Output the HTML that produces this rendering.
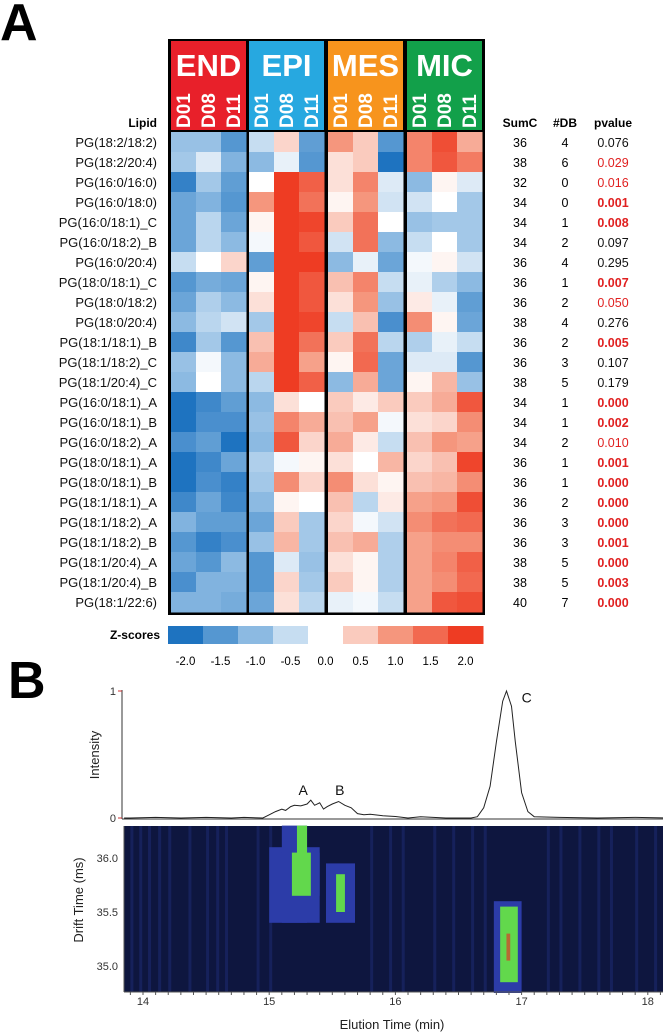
<!DOCTYPE html>
<html><head><meta charset="utf-8"><style>
html,body{margin:0;padding:0;background:#fff;}
svg{display:block;font-family:"Liberation Sans",sans-serif;}
</style></head><body>
<svg id="fig" width="663" height="1036" viewBox="0 0 663 1036" xmlns="http://www.w3.org/2000/svg">
<text x="0" y="40" font-size="52" font-weight="bold">A</text>
<text x="8" y="698" font-size="52" font-weight="bold">B</text>
<g id="hm"></g>
<g id="chrom"></g>
</svg>
<script>
const NS="http://www.w3.org/2000/svg";
const lipids=["PG(18:2/18:2)","PG(18:2/20:4)","PG(16:0/16:0)","PG(16:0/18:0)","PG(16:0/18:1)_C","PG(16:0/18:2)_B","PG(16:0/20:4)","PG(18:0/18:1)_C","PG(18:0/18:2)","PG(18:0/20:4)","PG(18:1/18:1)_B","PG(18:1/18:2)_C","PG(18:1/20:4)_C","PG(16:0/18:1)_A","PG(16:0/18:1)_B","PG(16:0/18:2)_A","PG(18:0/18:1)_A","PG(18:0/18:1)_B","PG(18:1/18:1)_A","PG(18:1/18:2)_A","PG(18:1/18:2)_B","PG(18:1/20:4)_A","PG(18:1/20:4)_B","PG(18:1/22:6)"];
const groups=["END","EPI","MES","MIC"];
const groupColors=["#e8202a","#27a8e0","#f7941d","#12a04a"];
const days=["D01","D08","D11"];
const zEND=[[-0.9,-0.9,-1.5],[-0.8,-0.3,-1.1],[-1.8,-0.8,-1.4],[-1.3,-1.1,-1.5],[-1.3,-0.6,-1.3],[-1.3,-0.6,-1.0],[-0.5,0,0.4],[-1.5,-1.2,-1.3],[-1.3,-0.7,-1.0],[-1.0,-0.6,-0.4],[-1.7,-0.8,-1.5],[-0.9,-0.1,-1.0],[-1.0,0,-1.0],[-2,-1.7,-1.4],[-2,-1.6,-1.6],[-1.6,-1.4,-2],[-2,-1.7,-1.3],[-2,-1.6,-1.8],[-1.7,-1.3,-1.7],[-1.1,-1.4,-1.4],[-1.5,-1.8,-1.6],[-1.3,-1.5,-1.0],[-1.6,-1.1,-1.1],[-1.1,-1.1,-1.2]];
const zEPI=[[-0.5,0.4,-1.4],[-1.0,-0.2,-1.5],[0,2,1.6],[1.0,2,1.4],[0.1,2,1.9],[-0.1,2,1.7],[-1.4,2,2],[0.1,2,1.7],[0.3,2,1.7],[-0.8,2,1.9],[0.6,2,1.4],[0.8,2,0.9],[-0.6,2,1.6],[-1.0,0.3,0],[-0.9,1.2,0.8],[-1.0,1.7,0.4],[-0.7,-0.1,0.1],[-0.8,1.1,0.4],[-1.0,0.1,0],[-1.3,0.5,-0.8],[-0.9,0.7,-0.8],[-1.5,-0.3,-0.9],[-1.5,0.4,-0.8],[-1.3,0.3,-0.6]];
const zMES=[[1.0,0.5,-1.5],[0.3,0.5,-2],[0.3,1.2,-0.3],[0.1,1.0,-0.4],[0.5,1.4,0],[-0.4,1.4,-1.0],[-1.0,-0.2,-1.3],[0.6,1.2,-0.5],[0.3,1.0,-0.9],[-0.5,0.6,-1.6],[0.5,1.4,-0.6],[0.1,1.5,-1.3],[-1.0,0.8,-1.3],[0.5,0.2,0.5],[0.6,0.9,-0.1],[0.8,0.2,-0.5],[0.3,0,0.7],[1.1,0.3,0.1],[0.6,-0.6,0.2],[0.4,-0.1,-0.4],[0.6,0.8,-0.7],[0.3,0.1,-0.7],[0.5,0.1,-0.7],[-0.2,-0.1,-0.5]];
const zMIC=[[1.2,1.8,0.8],[1.2,1.7,1.3],[-1,0.1,-0.3],[-0.4,0,-0.8],[-0.9,-0.8,-0.8],[-0.5,0,-0.8],[-0.1,0.1,-0.4],[-0.2,-0.7,-1.0],[0.2,-0.2,-1.4],[1.1,0.1,-1.3],[-0.7,-0.2,-0.5],[-0.3,-0.3,-1.5],[0.1,0.7,-0.9],[0.5,0.8,1.7],[0.3,0.4,1.1],[0.6,1.0,0.9],[0.4,0.6,1.9],[0.6,0.7,1.1],[0.9,1.0,1.8],[1.1,1.4,1.5],[0.9,1.1,1.1],[0.9,1.2,1.6],[0.9,1.1,1.5],[0.9,1.7,1.8]];
const sumC=[36,38,32,34,34,34,36,36,36,38,36,36,38,34,34,34,36,36,36,36,36,38,38,40];
const numDB=[4,6,0,0,1,2,4,1,2,4,2,3,5,1,1,2,1,1,2,3,3,5,5,7];
const pvals=["0.076","0.029","0.016","0.001","0.008","0.097","0.295","0.007","0.050","0.276","0.005","0.107","0.179","0.000","0.002","0.010","0.001","0.000","0.000","0.000","0.001","0.000","0.003","0.000"];
const legendVals=[-2.0,-1.5,-1.0,-0.5,0.0,0.5,1.0,1.5,2.0];

const stops=[[-2,[30,115,192]],[-1,[140,186,226]],[0,[255,255,255]],[1,[245,150,125]],[2,[238,60,35]]];
function zcol(z){z=Math.max(-2,Math.min(2,z));for(let i=0;i<stops.length-1;i++){const a=stops[i],b=stops[i+1];if(z<=b[0]){const t=(z-a[0])/(b[0]-a[0]);const c=a[1].map((v,k)=>Math.round(v+(b[1][k]-v)*t));return `rgb(${c})`;}}}
function mk(tag,attrs,parent,text){const e=document.createElementNS(NS,tag);for(const k in attrs)e.setAttribute(k,attrs[k]);if(text!==undefined)e.textContent=text;parent.appendChild(e);return e;}

const hm=document.getElementById('hm');
const rowTop=132,rowH=20,colW=25;
const gx=[171,249,328,407];
const rowY=i=>rowTop+i*rowH;
const colX=(g,c)=>gx[g]+c*colW;
const zData=[zEND,zEPI,zMES,zMIC];
let e=mk('rect',{x:168,y:39,width:317,height:576,fill:'#000'},hm);


groups.forEach((g,gi)=>{
  let h=mk('rect',{x:gx[gi],y:41,width:75,height:89,fill:groupColors[gi]},hm);
  
  
  let t=mk('text',{x:gx[gi]+37.5,y:76,'font-size':31,'font-weight':'bold',fill:'#fff','text-anchor':'middle'},hm,g);
  
  
  days.forEach((d,di)=>{
    let dt=mk('text',{transform:`translate(${colX(gi,di)+19},128) rotate(-90)`,'font-size':19,'font-weight':'bold',fill:'#fff'},hm,d);
    
    
  });
  zData[gi].forEach((row,ri)=>{row.forEach((z,ci)=>{
    let c=mk('rect',{x:colX(gi,ci),y:rowY(ri),width:colW+0.5,height:rowH+0.5,fill:zcol(z)},hm);
    
    
  });});
});
let lh=mk('text',{x:157,y:127,'font-size':12,'font-weight':'bold','text-anchor':'end'},hm,'Lipid');


[['SumC',520],['#DB',565],['pvalue',613]].forEach(([s,x])=>{
  let t=mk('text',{x:x,y:127,'font-size':12,'font-weight':'bold','text-anchor':'middle'},hm,s);
  
  
});
lipids.forEach((l,i)=>{
  const y=rowY(i)+15;
  let t=mk('text',{x:157,y:y,'font-size':13,'text-anchor':'end',fill:'#111'},hm,l);
  
  
  let s=mk('text',{x:520,y:y,'font-size':12.5,'text-anchor':'middle'},hm,String(sumC[i]));
  
  
  let d=mk('text',{x:565,y:y,'font-size':12.5,'text-anchor':'middle'},hm,String(numDB[i]));
  
  
  const p=parseFloat(pvals[i]);
  let pt=mk('text',{x:613,y:y,'font-size':12.5,'text-anchor':'middle',fill:p<=0.05?'#e02020':'#111','font-weight':p<0.01?'bold':'normal'},hm,pvals[i]);
  
  
});
let zl=mk('text',{x:160,y:639,'font-size':12,'font-weight':'bold','text-anchor':'end'},hm,'Z-scores');


legendVals.forEach((v,i)=>{
  const x=168+i*35;
  let r=mk('rect',{x:x,y:626,width:35.5,height:18,fill:zcol(v)},hm);
  
  
  let t=mk('text',{x:x+17.5,y:665,'font-size':11.5,'text-anchor':'middle'},hm,v.toFixed(1));
  
  
});

// ---- Panel B ----
const chromT=[13.85,13.9,14.1,14.3,14.5,14.7,14.8,14.95,15.0,15.05,15.1,15.13,15.17,15.2,15.25,15.3,15.33,15.36,15.4,15.43,15.46,15.5,15.55,15.6,15.65,15.7,15.75,15.8,15.9,16.0,16.1,16.2,16.4,16.6,16.65,16.7,16.75,16.8,16.85,16.88,16.92,16.95,17.0,17.05,17.1,17.3,17.6,17.9,18.15];
const chromI=[0,0,0.005,0,0.005,0,0.005,0,0.025,0.05,0.07,0.06,0.09,0.1,0.095,0.11,0.14,0.1,0.12,0.07,0.09,0.11,0.13,0.1,0.08,0.035,0.025,0.03,0.018,0.012,0,0.01,0,0,0.01,0.08,0.25,0.6,0.92,1.0,0.88,0.6,0.2,0.05,0.01,0.005,0,0.005,0];
const xTicks=[14,15,16,17,18];
const dTicks=[35.0,35.5,36.0];
const peakNames=["A","B","C"];
const peakT=[15.28,15.57,17.0];
const peakI=[0.22,0.22,0.95];
// blobs: time start/end, drift start/end, level
const blobT0=[15.0,15.1,15.45,16.78,15.05,15.18,15.22,15.5,15.53,16.83,16.88];
const blobT1=[15.4,15.3,15.68,17.0,15.4,15.33,15.3,15.62,15.6,16.97,16.91];
const blobD0=[35.4,35.4,35.4,34.75,35.65,35.65,36.0,35.45,35.5,34.85,35.05];
const blobD1=[36.1,36.3,35.95,35.6,36.05,36.05,36.3,35.9,35.85,35.55,35.3];
const blobL=[1,1,1,1,1,2,2,1,2,2,3];
const stripeT=[13.9,13.97,14.04,14.12,14.2,14.36,14.5,14.58,14.65,14.9,15.0,15.8,15.95,16.05,16.3,16.45,16.6,16.7,17.2,17.3,17.45,17.6,17.7,17.9,18.05];

const ch=document.getElementById('chrom');
const xL=124,xR=663;
const xS=t=>143+(t-14)*126.2;
const iS=v=>818-v*127;
const dS=d=>858-(d-36)*108;
const hmTop=826,hmBot=992;
let ax=mk('line',{x1:122,y1:690,x2:122,y2:819,stroke:'#333','stroke-width':1},ch);


let bl=mk('line',{x1:122,y1:819,x2:663,y2:819,stroke:'#333','stroke-width':1},ch);


[[1,'1'],[0,'0']].forEach(([v,s])=>{
  let t=mk('text',{x:116,y:iS(v)+4,'font-size':11,'text-anchor':'end',fill:'#333'},ch,s);
  
  
  let tk=mk('line',{x1:118,y1:iS(v),x2:122,y2:iS(v),stroke:'#c33'},ch);
  
  
});
let it=mk('text',{transform:'translate(99,755) rotate(-90)','font-size':13,'text-anchor':'middle',fill:'#222'},ch,'Intensity');


let pts=chromT.map((t,i)=>`${xS(t).toFixed(1)},${iS(chromI[i]).toFixed(1)}`).join(' ');
let pl=mk('polyline',{points:pts,fill:'none',stroke:'#222','stroke-width':1},ch);


peakNames.forEach((p,i)=>{
  let t=mk('text',{x:xS(peakT[i])-(i<2?6:0),y:iS(peakI[i])+5,'font-size':14,fill:'#111'},ch,p);
  
  
});
let bg=mk('rect',{x:xL,y:hmTop,width:xR-xL,height:hmBot-hmTop,fill:'#0e163f'},ch);


stripeT.forEach(t=>{
  let s=mk('rect',{x:xS(t),y:hmTop,width:3,height:hmBot-hmTop,fill:'#1a2668',opacity:0.7},ch);
  
  
});
const blobColors=["","#2c3ca8","#62d84c","#b66a34"];
blobL.forEach((lv,i)=>{
  let r=mk('rect',{x:xS(blobT0[i]),y:dS(blobD1[i]),width:xS(blobT1[i])-xS(blobT0[i]),height:dS(blobD0[i])-dS(blobD1[i]),fill:blobColors[lv]},ch);
  
  
});
let dax=mk('line',{x1:xL,y1:hmTop,x2:xL,y2:hmBot,stroke:'#555'},ch);


dTicks.forEach(d=>{
  let t=mk('text',{x:118,y:dS(d)+4,'font-size':11,'text-anchor':'end',fill:'#333'},ch,d.toFixed(1));
  
  
});
let dt=mk('text',{transform:'translate(83,900) rotate(-90)','font-size':13,'text-anchor':'middle',fill:'#222'},ch,'Drift Time (ms)');


let xa=mk('line',{x1:xL,y1:hmBot,x2:xR,y2:hmBot,stroke:'#555'},ch);


for(let t=13.9;t<=18.15;t+=0.1){
  let m=mk('line',{x1:xS(t),y1:hmBot,x2:xS(t),y2:hmBot+3,stroke:'#555'},ch);
  
  
}
xTicks.forEach(t=>{
  let l=mk('text',{x:xS(t),y:1005,'font-size':11,'text-anchor':'middle',fill:'#333'},ch,String(t));
  
  
});
let xt=mk('text',{x:392,y:1029,'font-size':13,'text-anchor':'middle',fill:'#222'},ch,'Elution Time (min)');


</script>
</body></html>
